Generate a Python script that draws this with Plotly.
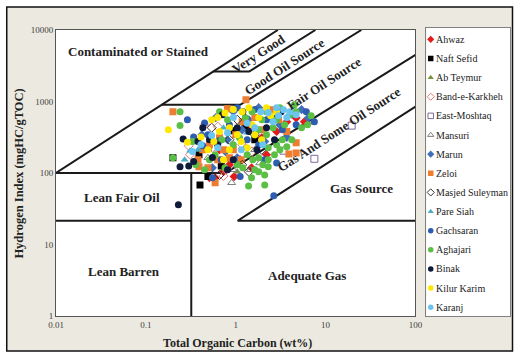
import plotly.graph_objects as go

# ---------------- Rock-Eval data: TOC (wt%) and Hydrogen Index (mgHC/gTOC) ----------------
ahwaz_toc = [0.51, 0.59, 0.96, 0.73, 0.85, 1.95, 2.2, 3.7, 1.37, 1.12, 1.5, 2.85, 0.66, 4.7, 5.8]
ahwaz_hi = [86, 86, 89, 104, 130, 310, 180, 520, 430, 153, 118, 380, 211, 590, 520]

naft_sefid_toc = [0.40, 0.49, 0.39, 0.49, 2.6, 0.20, 1.27, 0.94, 1.63, 0.69]
naft_sefid_hi = [68, 89, 180, 228, 575, 163, 445, 390, 292, 125]

ab_teymur_toc = [7.2, 1.04, 0.8]
ab_teymur_hi = [505, 104, 153]

band_e_karkheh_toc = [0.31, 0.30, 0.63, 0.45, 0.55, 1.18, 0.73, 1.52]
band_e_karkheh_hi = [180, 240, 445, 475, 225, 248, 91, 200]

east_moshtaq_toc = [3.4, 7.5, 19.5]
east_moshtaq_hi = [205, 158, 460]

mansuri_toc = [0.9, 1.27, 1.85, 1.63, 0.94, 1.46, 0.49]
mansuri_hi = [73, 225, 138, 211, 111, 111, 163]

marun_toc = [0.42, 0.6, 0.81, 0.94, 1.4, 1.8, 2.5, 5.4, 6.4, 1.18, 0.77, 2.1, 3.1, 0.55, 1.04, 3.7]
marun_hi = [343, 595, 292, 720, 555, 820, 590, 770, 590, 400, 198, 275, 470, 118, 163, 315]

zeloi_toc = [0.2, 0.81, 1.3, 0.38, 0.39, 0.59, 4.7, 3.9, 4.7, 0.43, 0.51, 0.66, 0.73, 1.0,
             0.85, 1.18, 1.63, 2.0, 2.5, 3.0, 0.63, 1.15, 0.49, 0.94, 3.7]
zeloi_hi = [720, 790, 1060, 153, 122, 73, 265, 185, 190, 211, 248, 310, 211, 343,
            163, 520, 595, 403, 768, 556, 153, 153, 118, 211, 380]

masjed_suleyman_toc = [0.85, 0.54, 1.18, 1.95, 0.66, 1.63, 1.4, 1.04]
masjed_suleyman_hi = [292, 430, 130, 211, 94, 343, 104, 555]

pare_siah_toc = [0.31, 0.38, 0.27, 0.73, 1.34]
pare_siah_hi = [205, 211, 153, 430, 365]

gachsaran_toc = [0.45, 0.34, 0.43, 0.66, 0.55, 1.12, 2.65, 2.85, 1.63, 1.04, 2.21, 4.16, 6.1,
                 1.8, 0.85, 1.34, 3.3, 0.29, 4.7, 0.69, 2.1, 0.49, 7.5]
gachsaran_hi = [500, 320, 240, 285, 86, 89, 48, 138, 770, 820, 556, 653, 720,
                248, 473, 292, 403, 556, 473, 153, 153, 343, 520]

aghajari_toc = [0.24, 0.24, 0.33, 0.2, 1.39, 2.1, 2.3, 1.34, 1.55, 1.8, 2.0, 2.3, 2.7, 3.1, 3.7,
                3.3, 4.2, 2.85, 2.3, 1.63, 1.2, 1.04, 1.8, 1.5, 2.1, 2.2, 3.1, 4.0, 4.7, 5.4,
                6.3, 4.5, 3.5, 2.6, 1.95, 1.52, 0.81, 0.66, 0.94, 0.7, 0.51, 0.59, 1.1, 1.8,
                2.2, 1.28, 0.45, 0.36, 0.76, 2.85, 6.9]
aghajari_hi = [720, 460, 275, 163, 66, 68, 122, 180, 153, 163, 130, 153, 180, 211, 232,
               292, 292, 248, 225, 111, 118, 130, 104, 86, 94, 720, 820, 653, 720, 430,
               473, 902, 473, 430, 556, 720, 556, 720, 248, 292, 153, 180, 310, 403,
               343, 595, 111, 130, 118, 556, 630]

binak_toc = [0.24, 0.3, 0.34, 0.26, 0.51, 0.23, 0.71, 1.04, 1.4, 2.2, 0.94, 0.63, 0.43, 1.72,
             1.2, 3.2, 0.81, 0.55, 2.7, 0.38]
binak_hi = [122, 125, 145, 300, 292, 36, 653, 430, 380, 430, 153, 248, 430, 211,
            720, 720, 111, 165, 292, 275]

kilur_karim_toc = [0.178, 0.29, 0.54, 0.63, 0.76, 0.94, 1.18, 1.4, 0.85, 1.04, 1.52, 1.8, 2.2,
                   2.45, 1.63, 1.15, 0.66, 0.49, 0.73, 1.34, 0.85, 1.95, 2.85, 0.57, 0.41]
kilur_karim_hi = [403, 270, 556, 595, 690, 770, 720, 820, 430, 343, 473, 595, 820,
                  630, 343, 275, 380, 211, 153, 225, 211, 292, 720, 275, 320]

karanj_toc = [0.41, 0.63, 0.94, 1.34, 1.9, 2.3, 2.85, 3.4, 4.0, 4.7, 3.7, 3.0, 2.6, 1.15,
              1.63, 0.54, 0.81, 2.0, 0.33]
karanj_hi = [250, 225, 595, 495, 720, 700, 820, 768, 720, 653, 595, 630, 520, 211,
             430, 335, 365, 248, 200]

# ---------------- classification boundaries (TOC, HI) ----------------
contaminated_toc, contaminated_hi = [0.01, 2.94], [100, 10000]
very_good_toc, very_good_hi = [0.563, 1.41, 7.7], [2620, 2620, 10000]
good_oil_toc, good_oil_hi = [0.15, 1.12, 25], [900, 900, 10000]
fair_oil_toc, fair_oil_hi = [0.01, 0.77, 100], [100, 100, 4500]
gas_oil_toc, gas_oil_hi = [100, 1.05, 100], [850, 21.5, 21.5]
lean_toc, lean_hi = [0.01, 0.32], [21.5, 21.5]
toc_cut_toc, toc_cut_hi = [0.32, 0.32], [1, 100]

x_tick_vals = [0.01, 0.1, 1, 10, 100]
x_tick_text = ["0.01", "0.1", "1", "10", "100"]
y_tick_vals = [1, 10, 100, 1000, 10000]
y_tick_text = ["1", "10", "100", "1000", "10000"]

series = [
    ("Ahwaz", ahwaz_toc, ahwaz_hi, "diamond", "#E41A1C"),
    ("Naft Sefid", naft_sefid_toc, naft_sefid_hi, "square", "#000000"),
    ("Ab Teymur", ab_teymur_toc, ab_teymur_hi, "triangle-up", "#77933C"),
    ("Band-e-Karkheh", band_e_karkheh_toc, band_e_karkheh_hi, "diamond-open", "#E07B7B"),
    ("East-Moshtaq", east_moshtaq_toc, east_moshtaq_hi, "square-open", "#7E6A9A"),
    ("Mansuri", mansuri_toc, mansuri_hi, "triangle-up-open", "#7F7F7F"),
    ("Marun", marun_toc, marun_hi, "diamond", "#3F6FB6"),
    ("Zeloi", zeloi_toc, zeloi_hi, "square", "#ED7D31"),
    ("Masjed Suleyman", masjed_suleyman_toc, masjed_suleyman_hi, "diamond-open", "#333333"),
    ("Pare Siah", pare_siah_toc, pare_siah_hi, "triangle-up", "#4BACC6"),
    ("Gachsaran", gachsaran_toc, gachsaran_hi, "circle", "#2D5DAF"),
    ("Aghajari", aghajari_toc, aghajari_hi, "circle", "#5BBF45"),
    ("Binak", binak_toc, binak_hi, "circle", "#0E1A3A"),
    ("Kilur Karim", kilur_karim_toc, kilur_karim_hi, "circle", "#FFE800"),
    ("Karanj", karanj_toc, karanj_hi, "circle", "#6CC5F0"),
]

SERIF = "Liberation Serif"
LINE = dict(color="#1a1a1a", width=2)

fig = go.Figure()

# boundary lines of the HI–TOC classification diagram
for bx, by in [(contaminated_toc, contaminated_hi), (very_good_toc, very_good_hi),
               (good_oil_toc, good_oil_hi), (fair_oil_toc, fair_oil_hi),
               (gas_oil_toc, gas_oil_hi), (lean_toc, lean_hi), (toc_cut_toc, toc_cut_hi)]:
    fig.add_trace(go.Scatter(x=bx, y=by, mode="lines", line=LINE, hoverinfo="skip",
                             showlegend=False, xaxis="x", yaxis="y"))

# sample points
for name, tx, hy, sym, col in series:
    fig.add_trace(go.Scatter(x=tx, y=hy, mode="markers", name=name,
                             marker=dict(symbol=sym, color=col, size=7,
                                         line=dict(width=1 if "open" in sym else 0, color=col)),
                             showlegend=False, xaxis="x", yaxis="y"))

# legend panel drawn as its own small subplot
legend_top, legend_step = 39.3, 19.14
for i, (name, tx, hy, sym, col) in enumerate(series):
    yy = (316 - (legend_top + legend_step * i)) / 288
    fig.add_trace(go.Scatter(x=[0.053], y=[yy], mode="markers",
                             marker=dict(symbol=sym, color=col, size=5.5,
                                         line=dict(width=1 if "open" in sym else 0, color=col)),
                             hoverinfo="skip", showlegend=False, xaxis="x2", yaxis="y2"))
    fig.add_annotation(x=0.094, y=yy, xref="x2", yref="y2", text=name, showarrow=False,
                       xanchor="left", yanchor="middle",
                       font=dict(family=SERIF, size=10, color="#222222"))

# region labels
region_labels = [
    ("Contaminated or Stained", 0.182, 0.917, 0),
    ("Very Good", 0.447, 0.913, -33),
    ("Good Oil Source", 0.503, 0.868, -33),
    ("Fair Oil Source", 0.590, 0.809, -33),
    ("Gas And Some Oil Source", 0.623, 0.649, -33),
    ("Gas Source", 0.672, 0.444, 0),
    ("Adequate Gas", 0.553, 0.142, 0),
    ("Lean Fair Oil", 0.145, 0.413, 0),
    ("Lean Barren", 0.150, 0.156, 0),
]
for txt, px, py, ang in region_labels:
    fig.add_annotation(x=px, y=py, xref="paper", yref="paper", text="<b>%s</b>" % txt,
                       showarrow=False, textangle=ang, xanchor="center", yanchor="middle",
                       font=dict(family=SERIF, size=13, color="#222222"))

# axis titles
fig.add_annotation(x=0.399, y=-0.094, xref="paper", yref="paper",
                   text="<b>Total Organic Carbon (wt%)</b>", showarrow=False,
                   xanchor="center", yanchor="middle",
                   font=dict(family=SERIF, size=12, color="#222222"))
fig.add_annotation(x=-0.0824, y=0.493, xref="paper", yref="paper",
                   text="<b>Hydrogen Index (mgHC/gTOC)</b>", showarrow=False, textangle=-90,
                   xanchor="center", yanchor="middle",
                   font=dict(family=SERIF, size=12.5, color="#222222"))

# beige frame behind everything, white panels on top of it
fig.add_shape(type="rect", xref="paper", yref="paper", x0=-0.1085, x1=1.0055,
              y0=-0.1215, y1=1.0729, fillcolor="#ECEAE0",
              line=dict(color="#111111", width=1.5), layer="below")
fig.add_shape(type="rect", xref="paper", yref="paper", x0=0, x1=0.7918, y0=0, y1=0.9931,
              fillcolor="white", line=dict(width=0), layer="below")
fig.add_shape(type="rect", xref="paper", yref="paper", x0=0.8156, x1=1, y0=0, y1=1,
              fillcolor="white", line=dict(width=0), layer="below")

axis_common = dict(showgrid=False, zeroline=False, showline=True, mirror=True,
                   linecolor="#555555", linewidth=1, ticks="",
                   tickfont=dict(family=SERIF, size=9, color="#404040"))

fig.update_layout(
    width=521, height=352,
    margin=dict(l=56, r=4, t=28, b=36),
    paper_bgcolor="white", plot_bgcolor="white",
    showlegend=False,
    font=dict(family=SERIF),
    xaxis=dict(type="log", range=[-2, 2], domain=[0, 0.7918], anchor="y",
               tickvals=x_tick_vals, ticktext=x_tick_text, **axis_common),
    yaxis=dict(type="log", range=[0, 4], domain=[0, 0.9931], anchor="x",
               tickvals=y_tick_vals, ticktext=y_tick_text, **axis_common),
    xaxis2=dict(domain=[0.8156, 1], range=[0, 1], anchor="y2", showgrid=False,
                zeroline=False, showticklabels=False, showline=True, mirror=True,
                linecolor="#808080", linewidth=1, fixedrange=True),
    yaxis2=dict(domain=[0, 1], range=[0, 1], anchor="x2", showgrid=False,
                zeroline=False, showticklabels=False, showline=True, mirror=True,
                linecolor="#808080", linewidth=1, fixedrange=True),
)

fig.write_html("out.html")
